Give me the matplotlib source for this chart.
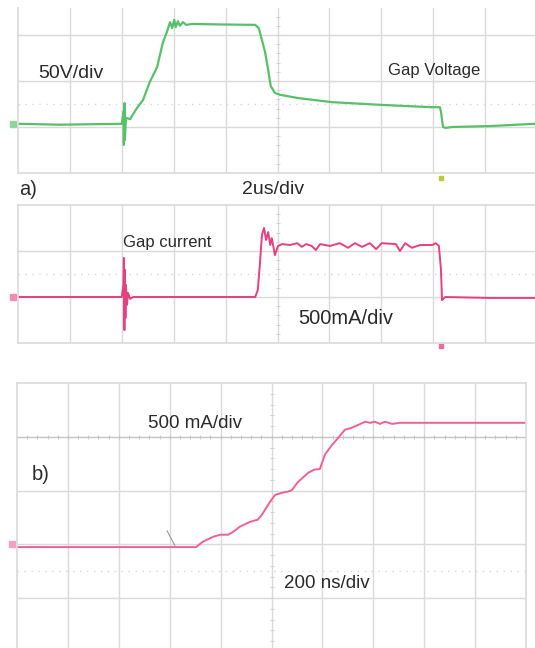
import numpy as np
import matplotlib
matplotlib.use("Agg")
import matplotlib.pyplot as plt

plt.rcParams['font.family'] = ['Liberation Sans', 'DejaVu Sans']

# All trace values are in scope divisions (x = time div, y = vertical div)

# a) top: gap voltage, 50 V/div, 2 us/div
volt_t = [0.00, 0.81, 2.00, 2.03, 2.04, 2.05, 2.06, 2.08, 2.16, 2.29, 2.41, 2.54,
          2.68, 2.79, 2.87, 2.93, 2.97, 3.01, 3.04, 3.08, 3.12, 3.18, 3.24, 3.35,
          3.89, 4.57, 4.64, 4.70, 4.76, 4.82, 4.87, 4.95, 5.05, 5.39, 6.05, 7.01,
          7.98, 8.13, 8.15, 8.19, 8.24, 8.36, 9.09, 9.96]
volt_v = [1.07, 1.05, 1.07, 1.33, 0.61, 1.52, 0.72, 1.20, 1.17, 1.41, 1.59, 1.98,
          2.30, 2.83, 3.07, 3.28, 3.15, 3.33, 3.17, 3.30, 3.20, 3.28, 3.22, 3.24,
          3.23, 3.22, 3.15, 2.89, 2.63, 2.24, 1.89, 1.74, 1.70, 1.63, 1.54, 1.48,
          1.43, 1.43, 1.33, 1.00, 0.98, 1.00, 1.02, 1.07]

# a) bottom: gap current, 500 mA/div, 2 us/div
curr_t = [0.00, 2.00, 2.03, 2.04, 2.05, 2.06, 2.07, 2.08, 2.10, 2.12, 2.16, 2.22,
          3.51, 4.57, 4.62, 4.66, 4.70, 4.74, 4.78, 4.82, 4.86, 4.89, 4.95, 5.01,
          5.09, 5.24, 5.38, 5.47, 5.55, 5.66, 5.74, 5.82, 6.01, 6.20, 6.36, 6.49,
          6.63, 6.78, 6.90, 7.01, 7.28, 7.36, 7.46, 7.59, 7.75, 7.98, 8.05, 8.11,
          8.15, 8.17, 8.23, 9.09, 9.96]
curr_v = [1.00, 1.00, 1.26, 1.85, 0.28, 1.59, 0.54, 1.26, 0.83, 1.09, 0.96, 1.00,
          1.00, 1.00, 1.15, 1.70, 2.35, 2.50, 2.24, 2.41, 2.13, 2.28, 1.91, 2.11,
          2.15, 2.13, 2.17, 2.09, 2.15, 2.11, 2.02, 2.15, 2.11, 2.17, 2.07, 2.17,
          2.09, 2.17, 2.04, 2.17, 2.15, 2.00, 2.17, 2.07, 2.13, 2.13, 2.17, 2.11,
          1.59, 0.93, 1.00, 0.98, 0.98]

# b) current rise, 500 mA/div, 200 ns/div
rise_t = [0.00, 1.63, 3.52, 3.65, 3.85, 3.99, 4.15, 4.24, 4.38, 4.58, 4.73, 4.81,
          4.91, 4.97, 5.07, 5.21, 5.32, 5.40, 5.52, 5.72, 5.84, 5.95, 6.05, 6.19,
          6.31, 6.44, 6.58, 6.70, 6.84, 6.94, 7.03, 7.13, 7.23, 7.37, 7.52, 7.92,
          8.70, 10.0]
rise_v = [1.95, 1.95, 1.95, 2.05, 2.14, 2.18, 2.18, 2.23, 2.33, 2.42, 2.46, 2.55,
          2.70, 2.79, 2.92, 2.96, 2.98, 3.01, 3.16, 3.33, 3.39, 3.40, 3.67, 3.85,
          3.98, 4.13, 4.17, 4.22, 4.28, 4.26, 4.28, 4.24, 4.28, 4.24, 4.26, 4.26,
          4.26, 4.26]

W, H = 535, 648
GRID = '#dadada'
GREEN = '#58bf6a'
PINK = '#e5407f'
PINK2 = '#ef6095'
TXT = '#2a2a2a'


def px_box(x0, y0, x1, y1):
    return [x0 / W, 1 - y1 / H, (x1 - x0) / W, (y1 - y0) / H]


def scope_axes(fig, box, ymax, hlines, dotted, tick_y=None, spines=('left', 'bottom')):
    ax = fig.add_axes(box)
    ax.set_xlim(0, 10)
    ax.set_ylim(0, ymax)
    ax.set_xticks([])
    ax.set_yticks([])
    for s in ax.spines:
        ax.spines[s].set_visible(s in spines)
        ax.spines[s].set_color(GRID)
        ax.spines[s].set_linewidth(1.2)
    for x in range(1, 10):
        ax.axvline(x, color=GRID, lw=1.0, zorder=0)
    for y in hlines:
        ax.axhline(y, color=GRID, lw=1.0, zorder=0)
    ax.axhline(dotted, color='#d8d8d8', lw=1.0, ls=(0, (1, 4)), zorder=0)
    # minor ticks on the centre axes
    yt = np.arange(0.2, ymax, 0.2)
    ax.plot(np.full(len(yt), 5), yt, ls='none', marker='_', ms=3, mew=0.7,
            color='#d0d0d0', zorder=0)
    if tick_y is not None:
        ax.axhline(tick_y, color='#c4c4c4', lw=1.0, zorder=0)
        xt = np.arange(0.2, 10, 0.2)
        ax.plot(xt, np.full(len(xt), tick_y), ls='none', marker='|', ms=3, mew=0.7,
                color='#c4c4c4', zorder=0)
    return ax


fig = plt.figure(figsize=(W / 100, H / 100), dpi=100)

ax1 = scope_axes(fig, px_box(18, 8, 537, 173), 165 / 46, [1, 2, 3], 1.5)
ax1.plot(volt_t, volt_v, color=GREEN, lw=1.6, solid_joinstyle='round')
ax1.plot(-0.1, volt_v[0], 's', ms=4, color='#8fd49a', clip_on=False)
ax1.plot(8.15, -0.1, 's', ms=3, color='#b9c93a', clip_on=False)

ax2 = scope_axes(fig, px_box(18, 205, 537, 343), 3, [1, 2], 1.5,
                 spines=('left', 'bottom', 'top'))
ax2.plot(curr_t, curr_v, color=PINK, lw=1.4, solid_joinstyle='round')
ax2.plot(-0.1, curr_v[0], 's', ms=4, color='#f08cb2', clip_on=False)
ax2.plot(8.15, -0.06, 's', ms=3, color='#f06a9c', clip_on=False)

ax3 = scope_axes(fig, px_box(17, 383, 526, 652), 5, [1, 2, 3], 1.5, tick_y=4,
                 spines=('left', 'top', 'right'))
ax3.plot(rise_t, rise_v, color=PINK2, lw=1.4, solid_joinstyle='round')
ax3.plot(-0.1, rise_v[0] + 0.05, 's', ms=4, color='#f4a0c0', clip_on=False)
ax3.plot([2.95, 3.1], [2.25, 1.98], color='#999999', lw=0.8)


def label(x, y, s, size):
    fig.text(x / W, 1 - y / H, s, fontsize=size, color=TXT, ha='left', va='center')


label(38, 73, '50V/div', 14)
label(388, 70, 'Gap Voltage', 12)
label(19, 189, 'a)', 14.5)
label(242, 189, '2us/div', 14)
label(123, 242, 'Gap current', 12)
label(298, 318, '500mA/div', 14.5)
label(148, 424, '500 mA/div', 13.5)
label(32, 475, 'b)', 14.5)
label(284, 583, '200 ns/div', 13.5)

fig.savefig('out.png', dpi=100)
